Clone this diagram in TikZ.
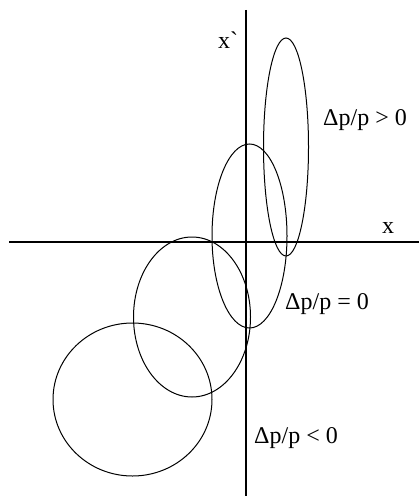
\documentclass[tikz,border=0pt]{standalone}
\usepackage{fontspec}
\newfontfamily\phasefont{Liberation Serif}
\usetikzlibrary{positioning}
\tikzset{
    axisline/.style={line width=0.6pt, black},
    % phase ellipses
    phaseline/.style={line width=0.5pt, black},
    phaselabel/.style={font=\phasefont\fontsize{12}{14}\selectfont, inner sep=0pt}
}
\begin{document}
\begin{tikzpicture}[x=0.5pt,y=-0.5pt]
   \useasboundingbox (0,0) rectangle (419,496);
   \path
    (9,242) coordinate (xl)
    (419,242) coordinate (xr)
    (246,10) coordinate (yt)
    (246,496) coordinate (yb);

    % axes
    \draw[axisline] (xl) -- (xr);
    \draw[axisline] (yt) -- (yb);

    % ellipses
    \draw[phaseline] (286,147) ellipse [x radius=22.5, y radius=109];
    \draw[phaseline] (249.5,236) ellipse [x radius=37.5, y radius=92];
    \draw[phaseline] (192,317) ellipse [x radius=58.5, y radius=80];
    \draw[phaseline] (132.5,399.5) ellipse [x radius=79.5, y radius=76.5];

    % labels
    \node[phaselabel] (xp) at (228,40) {x`};
    \node[phaselabel] (xa) at (388,228) {x};
    \node[phaselabel] (dpos) at (365,120) {Δp/p > 0};
    \node[phaselabel] (dzero) at (327,304) {Δp/p = 0};
    \node[phaselabel] (dneg) at (296,438) {Δp/p < 0};
\end{tikzpicture}
\end{document}
